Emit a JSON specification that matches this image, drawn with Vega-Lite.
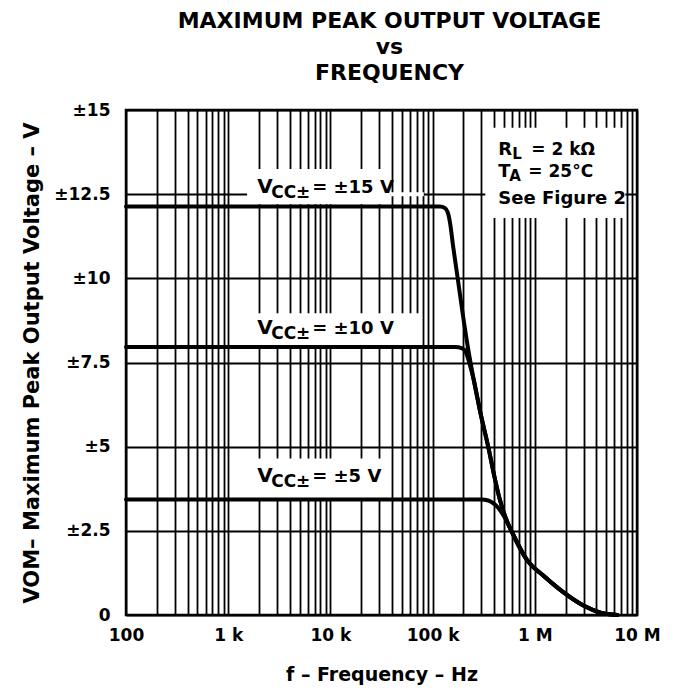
{
  "$schema": "https://vega.github.io/schema/vega-lite/v6.json",
  "width": 511,
  "height": 505,
  "autosize": {"type": "none"},
  "padding": {"left": 126, "top": 110, "right": 40, "bottom": 75},
  "background": "white",
  "title": {
    "text": ["MAXIMUM PEAK OUTPUT VOLTAGE", "vs", "FREQUENCY"],
    "font": "DejaVu Sans", "fontSize": 22, "fontWeight": "bold", "lineHeight": 26,
    "color": "black", "anchor": "middle", "offset": 16, "dx": 8
  },
  "data": {
    "values": [
      {"series": "15V", "f": 100, "v": 12.13},
      {"series": "15V", "f": 118000, "v": 12.13},
      {"series": "15V", "f": 132000, "v": 12.09},
      {"series": "15V", "f": 141000, "v": 11.95},
      {"series": "15V", "f": 149000, "v": 11.6},
      {"series": "15V", "f": 158000, "v": 11.0},
      {"series": "15V", "f": 176000, "v": 10},
      {"series": "15V", "f": 196000, "v": 9},
      {"series": "15V", "f": 220000, "v": 8},
      {"series": "15V", "f": 252000, "v": 7},
      {"series": "15V", "f": 294000, "v": 6},
      {"series": "15V", "f": 350000, "v": 5},
      {"series": "15V", "f": 410000, "v": 4},
      {"series": "15V", "f": 455000, "v": 3.43},
      {"series": "15V", "f": 515000, "v": 2.91},
      {"series": "15V", "f": 590000, "v": 2.5},
      {"series": "15V", "f": 845000, "v": 1.62},
      {"series": "15V", "f": 1210000, "v": 1.17},
      {"series": "15V", "f": 1910000, "v": 0.67},
      {"series": "15V", "f": 2990000, "v": 0.28},
      {"series": "15V", "f": 4390000, "v": 0.07},
      {"series": "15V", "f": 6400000, "v": 0},
      {"series": "10V", "f": 100, "v": 7.96},
      {"series": "10V", "f": 165000, "v": 7.96},
      {"series": "10V", "f": 195000, "v": 7.92},
      {"series": "10V", "f": 212000, "v": 7.8},
      {"series": "10V", "f": 228000, "v": 7.5},
      {"series": "10V", "f": 252000, "v": 7},
      {"series": "10V", "f": 294000, "v": 6},
      {"series": "10V", "f": 350000, "v": 5},
      {"series": "10V", "f": 410000, "v": 4},
      {"series": "10V", "f": 455000, "v": 3.43},
      {"series": "10V", "f": 515000, "v": 2.91},
      {"series": "10V", "f": 590000, "v": 2.5},
      {"series": "10V", "f": 845000, "v": 1.62},
      {"series": "10V", "f": 1210000, "v": 1.17},
      {"series": "10V", "f": 1910000, "v": 0.67},
      {"series": "10V", "f": 2990000, "v": 0.28},
      {"series": "10V", "f": 4390000, "v": 0.07},
      {"series": "10V", "f": 6400000, "v": 0},
      {"series": "5V", "f": 100, "v": 3.43},
      {"series": "5V", "f": 300000, "v": 3.43},
      {"series": "5V", "f": 350000, "v": 3.4},
      {"series": "5V", "f": 400000, "v": 3.3},
      {"series": "5V", "f": 440000, "v": 3.18},
      {"series": "5V", "f": 500000, "v": 2.93},
      {"series": "5V", "f": 590000, "v": 2.5},
      {"series": "5V", "f": 845000, "v": 1.62},
      {"series": "5V", "f": 1210000, "v": 1.17},
      {"series": "5V", "f": 1910000, "v": 0.67},
      {"series": "5V", "f": 2990000, "v": 0.28},
      {"series": "5V", "f": 4390000, "v": 0.07},
      {"series": "5V", "f": 6400000, "v": 0}
    ]
  },
  "layer": [
    {
      "data": {"values": [{}]},
      "mark": {"type": "rect", "fill": "white"},
      "encoding": {
        "x": {"datum": 1530, "type": "quantitative"},
        "x2": {"datum": 39000},
        "y": {"datum": 12.2, "type": "quantitative"},
        "y2": {"datum": 13.25}
      }
    },
    {
      "data": {"values": [{}]},
      "mark": {"type": "rect", "fill": "white"},
      "encoding": {
        "x": {"datum": 39000, "type": "quantitative"},
        "x2": {"datum": 82000},
        "y": {"datum": 12.44, "type": "quantitative"},
        "y2": {"datum": 12.56}
      }
    },
    {
      "data": {"values": [{}]},
      "mark": {"type": "rect", "fill": "white"},
      "encoding": {
        "x": {"datum": 1530, "type": "quantitative"},
        "x2": {"datum": 76000},
        "y": {"datum": 8.0, "type": "quantitative"},
        "y2": {"datum": 8.96}
      }
    },
    {
      "data": {"values": [{}]},
      "mark": {"type": "rect", "fill": "white"},
      "encoding": {
        "x": {"datum": 1530, "type": "quantitative"},
        "x2": {"datum": 38500},
        "y": {"datum": 3.45, "type": "quantitative"},
        "y2": {"datum": 4.65}
      }
    },
    {
      "data": {"values": [{}]},
      "mark": {"type": "rect", "fill": "white"},
      "encoding": {
        "x": {"datum": 328000, "type": "quantitative"},
        "x2": {"datum": 7700000},
        "y": {"datum": 11.79, "type": "quantitative"},
        "y2": {"datum": 14.47}
      }
    },
    {
      "data": {"values": [{}]},
      "mark": {"type": "text", "text": "V", "font": "DejaVu Sans", "fontWeight": "bold", "fontSize": 20, "align": "left", "baseline": "alphabetic", "color": "black"},
      "encoding": {"x": {"datum": 1920, "type": "quantitative"}, "y": {"datum": 12.52, "type": "quantitative"}}
    },
    {
      "data": {"values": [{}]},
      "mark": {"type": "text", "text": "CC±", "font": "DejaVu Sans", "fontWeight": "bold", "fontSize": 17, "align": "left", "baseline": "alphabetic", "dx": 14, "dy": 5, "color": "black"},
      "encoding": {"x": {"datum": 1920, "type": "quantitative"}, "y": {"datum": 12.52, "type": "quantitative"}}
    },
    {
      "data": {"values": [{}]},
      "mark": {"type": "text", "text": "= ±15 V", "font": "DejaVu Sans", "fontWeight": "bold", "fontSize": 18, "align": "left", "baseline": "alphabetic", "dx": 55, "color": "black"},
      "encoding": {"x": {"datum": 1920, "type": "quantitative"}, "y": {"datum": 12.52, "type": "quantitative"}}
    },
    {
      "data": {"values": [{}]},
      "mark": {"type": "text", "text": "V", "font": "DejaVu Sans", "fontWeight": "bold", "fontSize": 20, "align": "left", "baseline": "alphabetic", "color": "black"},
      "encoding": {"x": {"datum": 1920, "type": "quantitative"}, "y": {"datum": 8.36, "type": "quantitative"}}
    },
    {
      "data": {"values": [{}]},
      "mark": {"type": "text", "text": "CC±", "font": "DejaVu Sans", "fontWeight": "bold", "fontSize": 17, "align": "left", "baseline": "alphabetic", "dx": 14, "dy": 5, "color": "black"},
      "encoding": {"x": {"datum": 1920, "type": "quantitative"}, "y": {"datum": 8.36, "type": "quantitative"}}
    },
    {
      "data": {"values": [{}]},
      "mark": {"type": "text", "text": "= ±10 V", "font": "DejaVu Sans", "fontWeight": "bold", "fontSize": 18, "align": "left", "baseline": "alphabetic", "dx": 55, "color": "black"},
      "encoding": {"x": {"datum": 1920, "type": "quantitative"}, "y": {"datum": 8.36, "type": "quantitative"}}
    },
    {
      "data": {"values": [{}]},
      "mark": {"type": "text", "text": "V", "font": "DejaVu Sans", "fontWeight": "bold", "fontSize": 20, "align": "left", "baseline": "alphabetic", "color": "black"},
      "encoding": {"x": {"datum": 1920, "type": "quantitative"}, "y": {"datum": 3.95, "type": "quantitative"}}
    },
    {
      "data": {"values": [{}]},
      "mark": {"type": "text", "text": "CC±", "font": "DejaVu Sans", "fontWeight": "bold", "fontSize": 17, "align": "left", "baseline": "alphabetic", "dx": 14, "dy": 5, "color": "black"},
      "encoding": {"x": {"datum": 1920, "type": "quantitative"}, "y": {"datum": 3.95, "type": "quantitative"}}
    },
    {
      "data": {"values": [{}]},
      "mark": {"type": "text", "text": "= ±5 V", "font": "DejaVu Sans", "fontWeight": "bold", "fontSize": 18, "align": "left", "baseline": "alphabetic", "dx": 55, "color": "black"},
      "encoding": {"x": {"datum": 1920, "type": "quantitative"}, "y": {"datum": 3.95, "type": "quantitative"}}
    },
    {
      "data": {"values": [{}]},
      "mark": {"type": "text", "text": "R", "font": "DejaVu Sans", "fontWeight": "bold", "fontSize": 18, "align": "left", "baseline": "alphabetic", "color": "black"},
      "encoding": {"x": {"datum": 440000, "type": "quantitative"}, "y": {"datum": 13.66, "type": "quantitative"}}
    },
    {
      "data": {"values": [{}]},
      "mark": {"type": "text", "text": "L", "font": "DejaVu Sans", "fontWeight": "bold", "fontSize": 15, "align": "left", "baseline": "alphabetic", "dx": 14, "dy": 4, "color": "black"},
      "encoding": {"x": {"datum": 440000, "type": "quantitative"}, "y": {"datum": 13.66, "type": "quantitative"}}
    },
    {
      "data": {"values": [{}]},
      "mark": {"type": "text", "text": "= 2 kΩ", "font": "DejaVu Sans", "fontWeight": "bold", "fontSize": 17, "align": "left", "baseline": "alphabetic", "dx": 33, "color": "black"},
      "encoding": {"x": {"datum": 440000, "type": "quantitative"}, "y": {"datum": 13.66, "type": "quantitative"}}
    },
    {
      "data": {"values": [{}]},
      "mark": {"type": "text", "text": "T", "font": "DejaVu Sans", "fontWeight": "bold", "fontSize": 18, "align": "left", "baseline": "alphabetic", "color": "black"},
      "encoding": {"x": {"datum": 440000, "type": "quantitative"}, "y": {"datum": 13.02, "type": "quantitative"}}
    },
    {
      "data": {"values": [{}]},
      "mark": {"type": "text", "text": "A", "font": "DejaVu Sans", "fontWeight": "bold", "fontSize": 15, "align": "left", "baseline": "alphabetic", "dx": 11, "dy": 4, "color": "black"},
      "encoding": {"x": {"datum": 440000, "type": "quantitative"}, "y": {"datum": 13.02, "type": "quantitative"}}
    },
    {
      "data": {"values": [{}]},
      "mark": {"type": "text", "text": "= 25°C", "font": "DejaVu Sans", "fontWeight": "bold", "fontSize": 17, "align": "left", "baseline": "alphabetic", "dx": 30, "color": "black"},
      "encoding": {"x": {"datum": 440000, "type": "quantitative"}, "y": {"datum": 13.02, "type": "quantitative"}}
    },
    {
      "data": {"values": [{}]},
      "mark": {"type": "text", "text": "See Figure 2", "font": "DejaVu Sans", "fontWeight": "bold", "fontSize": 18, "align": "left", "baseline": "alphabetic", "color": "black"},
      "encoding": {"x": {"datum": 440000, "type": "quantitative"}, "y": {"datum": 12.2, "type": "quantitative"}}
    },
    {
      "mark": {"type": "line", "color": "black", "strokeWidth": 4, "interpolate": "monotone", "strokeCap": "round", "strokeJoin": "round"},
      "encoding": {
        "x": {
          "field": "f", "type": "quantitative",
          "scale": {"type": "log", "domain": [100, 10000000], "nice": false},
          "axis": {
            "title": "f – Frequency – Hz",
            "values": [100,200,300,400,500,600,700,800,900,1000,2000,3000,4000,5000,6000,7000,8000,9000,10000,20000,30000,40000,50000,60000,70000,80000,90000,100000,200000,300000,400000,500000,600000,700000,800000,900000,1000000,2000000,3000000,4000000,5000000,6000000,7000000,8000000,9000000,10000000],
            "labelExpr": "indexof([100,1000,10000,100000,1000000,10000000], datum.value) < 0 ? '' : datum.value >= 1000000 ? format(datum.value/1000000, 'd') + ' M' : datum.value >= 1000 ? format(datum.value/1000, 'd') + ' k' : format(datum.value, 'd')",
            "labelOverlap": false,
            "labelFlush": false,
            "labelBound": false,
            "labelPadding": 12,
            "titlePadding": 22,
            "titleFontSize": 19,
            "labelFontSize": 17
          }
        },
        "y": {
          "field": "v", "type": "quantitative",
          "scale": {"domain": [0, 15], "nice": false, "zero": false},
          "axis": {
            "title": "VOM– Maximum Peak Output Voltage – V",
            "values": [0, 2.5, 5, 7.5, 10, 12.5, 15],
            "labelExpr": "datum.value == 0 ? '0' : '±' + datum.value",
            "labelOverlap": false,
            "labelPadding": 16,
            "titlePadding": 11,
            "titleFontSize": 21,
            "labelFontSize": 17
          }
        },
        "detail": {"field": "series", "type": "nominal"}
      }
    }
  ],
  "config": {
    "view": {"stroke": "black", "strokeWidth": 2.5},
    "axis": {
      "grid": true,
      "gridColor": "black",
      "gridWidth": 1.8,
      "gridOpacity": 1,
      "domain": false,
      "ticks": false,
      "tickSize": 0,
      "labelFont": "DejaVu Sans",
      "labelFontWeight": "bold",
      "labelColor": "black",
      "titleFont": "DejaVu Sans",
      "titleFontWeight": "bold",
      "titleColor": "black"
    }
  }
}
